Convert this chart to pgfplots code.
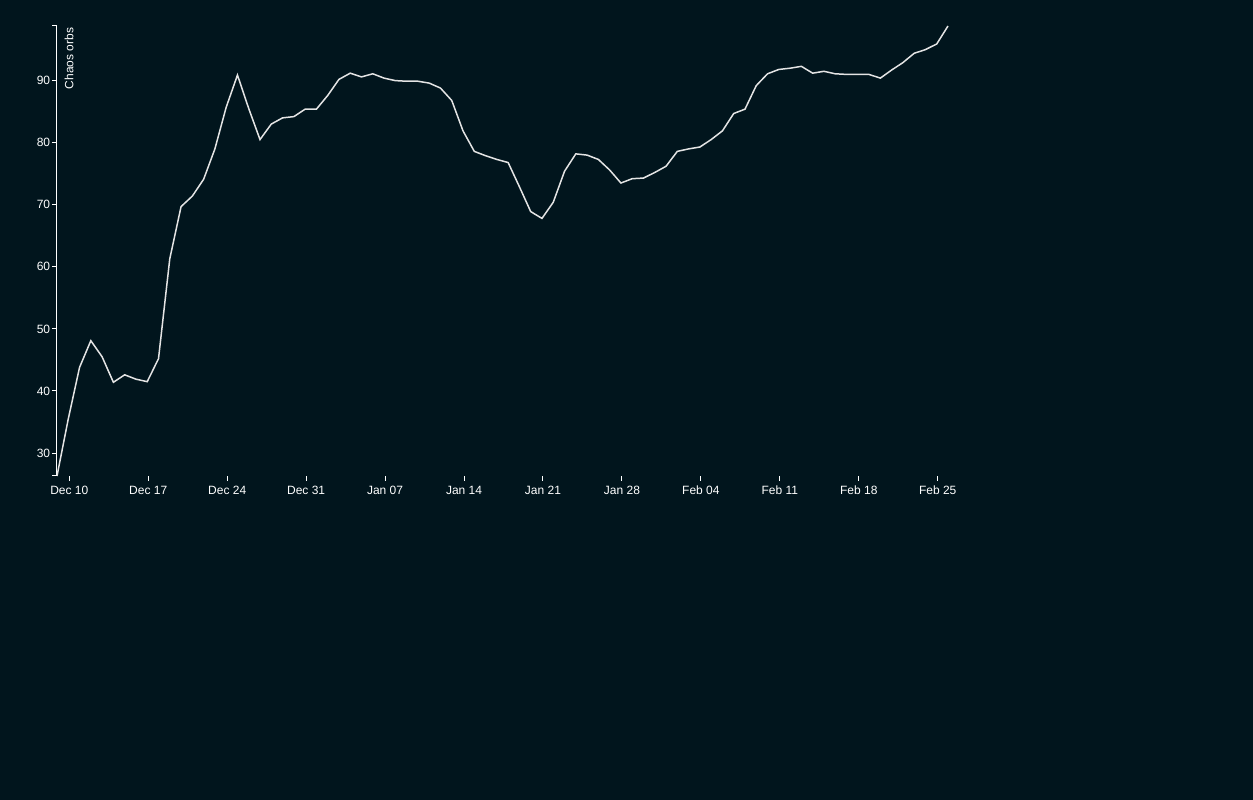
\documentclass[border=0pt]{standalone}
\usepackage{pgfplots}
\pgfplotsset{compat=1.18}
\usepackage{fontspec}
\setmainfont{Liberation Sans}
\definecolor{bg}{RGB}{1,21,29}
\definecolor{fg}{RGB}{255,255,255}
\definecolor{ln}{RGB}{228,228,228}
\begin{document}
\begin{tikzpicture}[x=1pt,y=1pt]
\fill[bg] (0,0) rectangle (1253,800);
\useasboundingbox (0,0) rectangle (1253,800);
\begin{axis}[
  at={(57pt,324pt)}, anchor=south west,
  scale only axis, width=891pt, height=450pt,
  xmin=-1, xmax=78, ymin=26.3, ymax=98.8,
  axis lines=left,
  axis line style={-, draw=fg, line width=1pt},
  x axis line style={draw=none},
  tick align=outside,
  major tick length=5pt,
  tick style={draw=fg, line width=1pt},
  ytick={30,40,50,60,70,80,90},
  xtick={0.09,7.09,14.09,21.09,28.09,35.09,42.09,49.09,56.09,63.09,70.09,77.09},
  xticklabels={Dec 10,Dec 17,Dec 24,Dec 31,Jan 07,Jan 14,Jan 21,Jan 28,Feb 04,Feb 11,Feb 18,Feb 25},
  /pgf/number format/assume math mode=true,
  tick label style={text=fg, font=\fontsize{12}{14}\selectfont},
  yticklabel style={inner sep=2pt, xshift=0.3pt},
  xticklabel style={inner sep=3pt, text height=8.8pt, text depth=0pt, yshift=-2pt},
  clip=false,
]
\addplot[color=ln, line width=1.5pt, mark=none] coordinates {
(-1,26.3) (0,35.5) (1,43.8) (2,48.1) (3,45.5) (4,41.4) (5,42.6) (6,41.9) (7,41.5) (8,45.2)
(9,61.3) (10,69.7) (11,71.4) (12,74.1) (13,79.0) (14,85.7) (15,90.9) (16,85.5) (17,80.5) (18,83.0)
(19,84.0) (20,84.2) (21,85.4) (22,85.4) (23,87.6) (24,90.2) (25,91.2) (26,90.6) (27,91.1) (28,90.4)
(29,90.0) (30,89.9) (31,89.9) (32,89.6) (33,88.8) (34,86.8) (35,81.9) (36,78.6) (37,77.9) (38,77.3)
(39,76.8) (40,72.9) (41,68.9) (42,67.8) (43,70.4) (44,75.4) (45,78.2) (46,78.0) (47,77.3) (48,75.6)
(49,73.5) (50,74.2) (51,74.3) (52,75.2) (53,76.2) (54,78.6) (55,79.0) (56,79.3) (57,80.5) (58,81.9)
(59,84.7) (60,85.4) (61,89.2) (62,91.1) (63,91.8) (64,92.0) (65,92.3) (66,91.2) (67,91.5) (68,91.1)
(69,91.0) (70,91.0) (71,91.0) (72,90.4) (73,91.7) (74,92.9) (75,94.4) (76,95.0) (77,95.9) (78,98.8)
};
\draw[fg, line width=1pt] (rel axis cs:0,0) -- ++(-5pt,0pt);
\draw[fg, line width=1pt] (rel axis cs:0,1) -- ++(-5pt,0pt);
\node[rotate=90, anchor=base east, inner sep=0pt, text=fg, font=\fontsize{12}{14}\selectfont]
  at ([xshift=16.3pt,yshift=-1.7pt]rel axis cs:0,1) {Chaos orbs};
\end{axis}
\end{tikzpicture}
\end{document}
